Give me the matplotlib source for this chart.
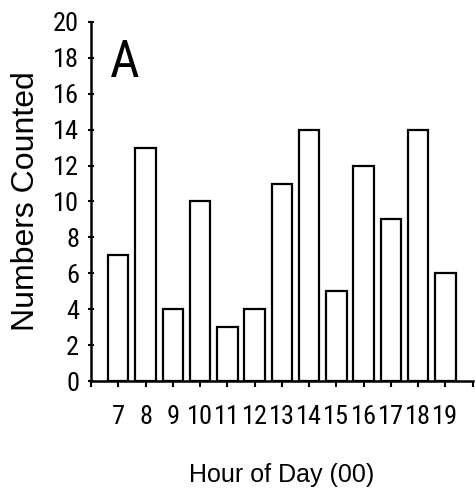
import matplotlib
matplotlib.use("Agg")
import matplotlib.pyplot as plt
from matplotlib import font_manager as fm

hours = [7, 8, 9, 10, 11, 12, 13, 14, 15, 16, 17, 18, 19]
counts = [7, 13, 4, 10, 3, 4, 11, 14, 5, 12, 9, 14, 6]
x_ticks = list(range(6, 21))
x_tick_labels = [str(h) if 7 <= h <= 19 else "" for h in x_ticks]
y_ticks = list(range(0, 21, 2))

installed = {f.name for f in fm.fontManager.ttflist}
prefs = ['Liberation Sans Narrow', 'Arial Narrow', 'Roboto Condensed', 'Archivo Narrow']
narrow_first = [n for n in prefs if n in installed]
narrow = narrow_first[:1] + ['Liberation Sans', 'DejaVu Sans']
regular = ['Liberation Sans', 'DejaVu Sans']

fig = plt.figure(figsize=(4.75, 4.92), dpi=100)
ax = fig.add_axes([0.1916, 0.2256, 0.8034, 0.7297])

ax.bar(hours, counts, width=0.75, color='white', edgecolor='black',
       linewidth=1.6, zorder=2)

ax.set_xlim(6, 20)
ax.set_ylim(0, 20)
ax.set_xticks(x_ticks)
ax.set_xticklabels(x_tick_labels, fontfamily=narrow, fontsize=19)
ax.set_yticks(y_ticks)
ax.set_yticklabels([str(v) for v in y_ticks], fontfamily=narrow, fontsize=19)

for s in ['top', 'right']:
    ax.spines[s].set_visible(False)
for s in ['left', 'bottom']:
    ax.spines[s].set_linewidth(1.8)
    ax.spines[s].set_zorder(3)

ax.tick_params(axis='x', direction='out', length=4.5, width=1.5, pad=13)
ax.tick_params(axis='y', direction='inout', length=5, width=1.5, pad=6)

ax.set_xlabel("Hour of Day (00)", fontfamily=regular, fontsize=18, labelpad=24)
ax.set_ylabel("Numbers Counted", fontfamily=regular, fontsize=23, labelpad=9)

ax.text(0.05, 0.955, "A", transform=ax.transAxes, fontfamily=narrow,
        fontsize=37, va='top', ha='left')

fig.savefig("out.png", dpi=100)
